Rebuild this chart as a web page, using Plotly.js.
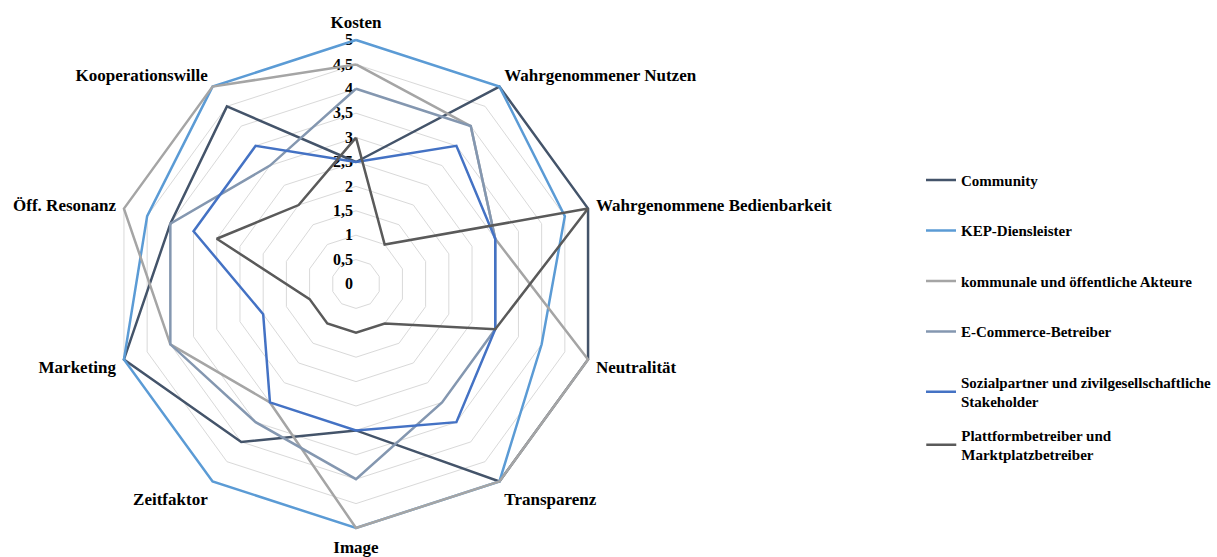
<!DOCTYPE html>
<html>
<head>
<meta charset="utf-8">
<script src="https://cdn.plot.ly/plotly-3.0.1.min.js"></script>
<style>
  html, body { margin: 0; padding: 0; background: #fff; }
  #chart { width: 1217px; height: 557px; }
</style>
</head>
<body>
<div id="chart"></div>
<script>
'use strict';

const categories = ['Kosten', 'Wahrgenommener Nutzen', 'Wahrgenommene Bedienbarkeit', 'Neutralität',
  'Transparenz', 'Image', 'Zeitfaktor', 'Marketing', 'Öff. Resonanz', 'Kooperationswille'];

const community = [2.5, 5, 5, 5, 5, 3, 4, 5, 4, 4.5];
const kepDienstleister = [5, 5, 4.5, 4, 5, 5, 5, 5, 4.5, 5];
const kommunaleAkteure = [4.5, 4, 3, 5, 5, 5, 3, 4, 5, 5];
const eCommerce = [4, 4, 3, 3, 3, 4, 3.5, 4, 4, 3];
const sozialpartner = [2.5, 3.5, 3, 3, 3.5, 3, 3, 2, 3.5, 3.5];
const plattform = [3, 1, 5, 3, 1, 1, 1, 1, 3, 2];

const seriesNames = ['Community', 'KEP-Diensleister', 'kommunale und öffentliche Akteure',
  'E-Commerce-Betreiber', 'Sozialpartner und zivilgesellschaftliche<br>Stakeholder',
  'Plattformbetreiber und<br>Marktplatzbetreiber'];
const seriesValues = [community, kepDienstleister, kommunaleAkteure, eCommerce, sozialpartner, plattform];
const seriesColors = ['#44546A', '#5B9BD5', '#A5A5A5', '#8497B0', '#4472C4', '#5A5A5A'];

const serif = 'Liberation Serif, Times New Roman, serif';
const legendFont = { family: serif, size: 15, weight: 'bold', color: '#000' };

// radial range goes a little past 5 so lines on the outer ring are not clipped
const rMax = 5.05;
const cx = 356, cy = 284, rPx = 244 * rMax / 5;

// close the polygon by repeating the first point
// last series goes to a second legend so the two-line entry doesn't push it down
const data = seriesValues.map((vals, i) => ({
  type: 'scatterpolar',
  mode: 'lines',
  r: vals.concat(vals[0]),
  theta: categories.concat(categories[0]),
  name: seriesNames[i],
  legendgroup: 'g' + i,
  legend: i === seriesValues.length - 1 ? 'legend2' : 'legend',
  line: { color: seriesColors[i], width: 2.5 },
}));

const layout = {
  width: 1217,
  height: 557,
  margin: { l: 0, r: 0, t: 0, b: 0 },
  paper_bgcolor: '#fff',
  separators: ',.',
  font: { family: serif, color: '#000' },
  showlegend: true,
  legend: {
    x: 0.757,
    y: 0.706,
    xanchor: 'left',
    yanchor: 'top',
    tracegroupgap: 28,
    font: legendFont,
  },
  legend2: {
    x: 0.757,
    y: 0.248,
    xanchor: 'left',
    yanchor: 'top',
    font: legendFont,
  },
  polar: {
    domain: {
      x: [(cx - rPx) / 1217, (cx + rPx) / 1217],
      y: [(557 - cy - rPx) / 557, (557 - cy + rPx) / 557],
    },
    gridshape: 'linear',
    bgcolor: '#fff',
    radialaxis: {
      range: [0, rMax],
      tick0: 0,
      dtick: 0.5,
      angle: 90,
      tickangle: 90,
      side: 'counterclockwise',
      showline: false,
      ticks: '',
      layer: 'below traces',
      gridcolor: '#D9D9D9',
      tickfont: { family: serif, size: 16, weight: 'bold', color: '#000' },
    },
    angularaxis: {
      rotation: 90,
      direction: 'clockwise',
      showgrid: false,
      showline: false,
      layer: 'below traces',
      ticks: 'outside',
      ticklen: 2,
      tickcolor: 'rgba(0,0,0,0)',
      tickfont: { family: serif, size: 17, weight: 'bold', color: '#000' },
    },
  },
};

Plotly.newPlot('chart', data, layout, { displayModeBar: false });
</script>
</body>
</html>
